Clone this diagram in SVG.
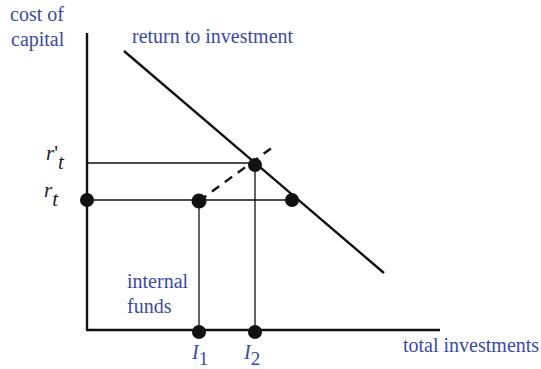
<svg xmlns="http://www.w3.org/2000/svg" width="541" height="369" viewBox="0 0 541 369">
<style>
.lbl{font-family:"Liberation Serif","DejaVu Serif",serif;font-size:20px;fill:#3a4aa8}
.math{font-family:"Liberation Serif","DejaVu Serif",serif;font-style:italic;font-size:21px;fill:#222}
.thin{stroke:#111;stroke-width:1.3;fill:none}
.thick{stroke:#111;stroke-width:2.4;fill:none}
.dot{fill:#111}
</style>
<rect width="541" height="369" fill="#fff"/>
<g id="connectors">
<line class="thick" x1="87" y1="33" x2="87" y2="330"/>
<line class="thick" x1="86" y1="330" x2="440" y2="330"/>
<line class="thick" x1="124" y1="51" x2="384" y2="273"/>
<line class="thin" x1="87" y1="163" x2="255" y2="163"/>
<line class="thin" x1="87" y1="200" x2="291" y2="200"/>
<line class="thin" x1="199" y1="201" x2="199" y2="330"/>
<line class="thin" x1="255" y1="165" x2="255" y2="330"/>
<line class="thick" x1="199" y1="201" x2="273" y2="147" stroke-dasharray="9,7"/>
</g>
<g id="dots">
<circle class="dot" cx="87" cy="200" r="7"/>
<circle class="dot" cx="199" cy="201" r="7.5"/>
<circle class="dot" cx="255" cy="165" r="7"/>
<circle class="dot" cx="292" cy="200" r="7"/>
<circle class="dot" cx="199" cy="332" r="7"/>
<circle class="dot" cx="255" cy="332" r="7"/>
</g>
<g id="labels">
<text class="lbl" x="10" y="21">cost of</text>
<text class="lbl" x="11" y="46">capital</text>
<text class="lbl" x="132" y="43">return to investment</text>
<text class="lbl" x="127" y="288">internal</text>
<text class="lbl" x="127" y="313">funds</text>
<text class="lbl" x="403" y="352">total investments</text>
<text class="math" x="46" y="160">r<tspan font-style="normal">'</tspan><tspan dy="9">t</tspan></text>
<text class="math" x="44" y="197">r<tspan dy="9">t</tspan></text>
<text class="lbl" font-style="italic" x="192" y="359" font-size="18">I<tspan font-style="normal" font-size="19" dy="6">1</tspan></text>
<text class="lbl" font-style="italic" x="244" y="359" font-size="18">I<tspan font-style="normal" font-size="19" dy="6">2</tspan></text>
</g>
</svg>
